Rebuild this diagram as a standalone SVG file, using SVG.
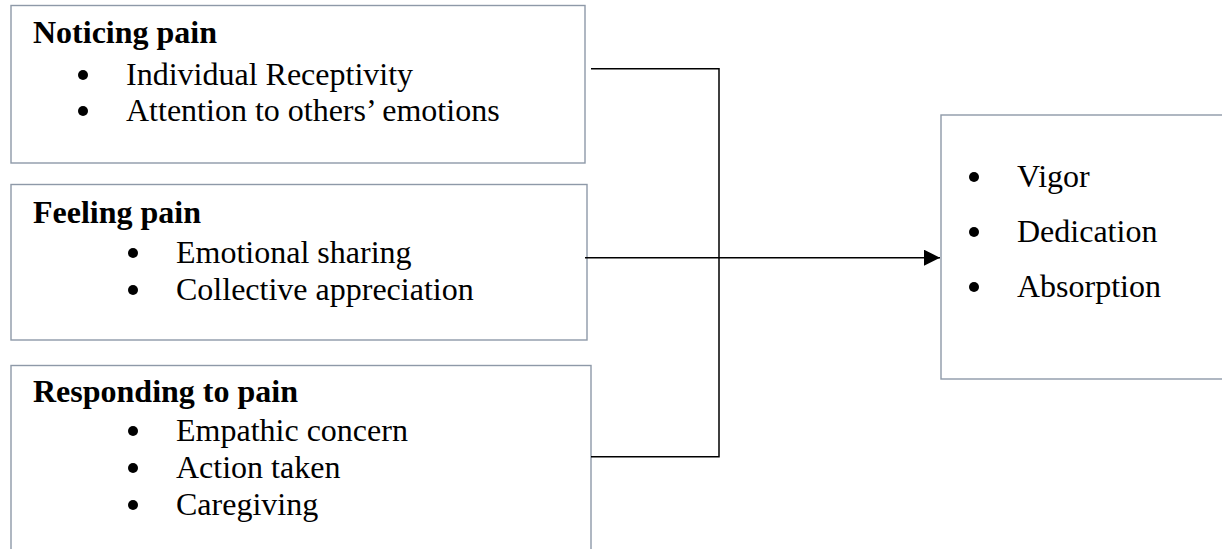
<svg xmlns="http://www.w3.org/2000/svg" width="1222" height="549" viewBox="0 0 1222 549">
<defs>
<style>
.box{fill:#ffffff;stroke:#8e99a8;stroke-width:1.4}
.t{font-family:"Liberation Serif","Times New Roman",serif;font-size:32px;fill:#000}
.h{font-weight:bold}
.dot{fill:#000}
.c{fill:none;stroke:#000;stroke-width:1.5}
</style>
<marker id="arr" markerUnits="userSpaceOnUse" markerWidth="18" markerHeight="16" refX="16" refY="8" orient="auto">
<path d="M0,0 L16,8 L0,16 Z" fill="#000"/>
</marker>
</defs>
<rect width="1222" height="549" fill="#fff"/>
<g id="noticing">
<rect class="box" x="11" y="5.5" width="574" height="157.5"/>
<text class="t h" x="33" y="43">Noticing pain</text>
<circle class="dot" cx="83" cy="75" r="5"/>
<text class="t" x="126" y="85">Individual Receptivity</text>
<circle class="dot" cx="83" cy="111" r="5"/>
<text class="t" x="126" y="121">Attention to others’ emotions</text>
</g>
<g id="feeling">
<rect class="box" x="11" y="184.5" width="576" height="155.5"/>
<text class="t h" x="33" y="223">Feeling pain</text>
<circle class="dot" cx="133" cy="253" r="5"/>
<text class="t" x="176" y="263">Emotional sharing</text>
<circle class="dot" cx="133" cy="290" r="5"/>
<text class="t" x="176" y="300">Collective appreciation</text>
</g>
<g id="responding">
<rect class="box" x="11" y="365.5" width="580" height="200"/>
<text class="t h" x="33" y="402">Responding to pain</text>
<circle class="dot" cx="133" cy="431" r="5"/>
<text class="t" x="176" y="441">Empathic concern</text>
<circle class="dot" cx="133" cy="468" r="5"/>
<text class="t" x="176" y="478">Action taken</text>
<circle class="dot" cx="133" cy="505" r="5"/>
<text class="t" x="176" y="515">Caregiving</text>
</g>
<g id="engagement">
<rect class="box" x="941" y="115" width="300" height="264"/>
<circle class="dot" cx="974" cy="177" r="5"/>
<text class="t" x="1017" y="187">Vigor</text>
<circle class="dot" cx="974" cy="232" r="5"/>
<text class="t" x="1017" y="242">Dedication</text>
<circle class="dot" cx="974" cy="287" r="5"/>
<text class="t" x="1017" y="297">Absorption</text>
</g>
<g id="connectors">
<polyline class="c" points="591,68.7 719,68.7 719,456.7 591,456.7"/>
<line class="c" x1="585" y1="257.7" x2="940" y2="257.7" marker-end="url(#arr)"/>
</g>
</svg>
